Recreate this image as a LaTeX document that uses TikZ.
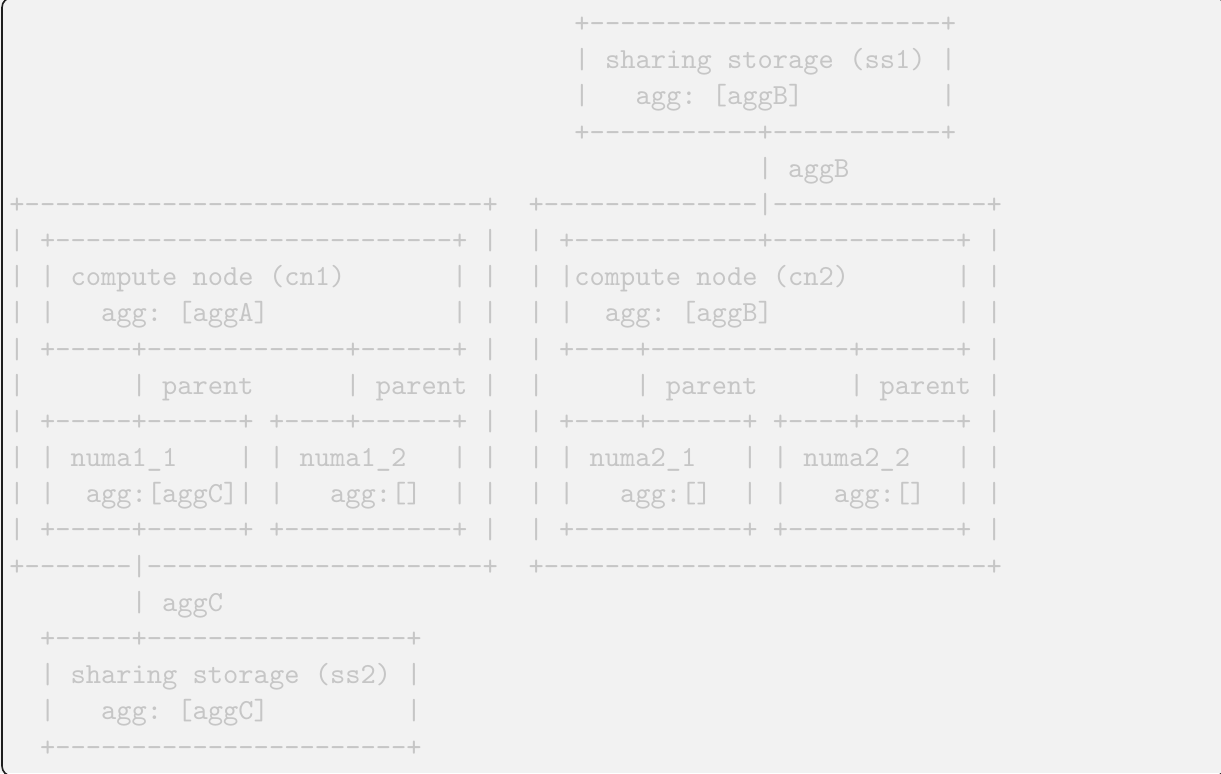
\documentclass[tikz,border=0pt]{standalone}
\usepackage{fontspec}
\setmonofont{lmmono10-regular}[Extension=.otf]
\usepackage{tikz}

\definecolor{pagegray}{RGB}{242,242,242}
\definecolor{asciigray}{RGB}{198,198,198}
\definecolor{framegray}{RGB}{30,30,30}

\tikzset{
  ascii/.style={font=\ttfamily\fontsize{14.54pt}{17pt}\selectfont\frenchspacing,
    text=asciigray, inner sep=0pt, anchor=base west},
}

\begin{document}
\begin{tikzpicture}[x=0.5pt,y=-0.5pt]
              % Definitions
              \pgfmathsetmacro{\W}{1221}
              \pgfmathsetmacro{\H}{773}
              \pgfmathsetmacro{\cw}{15.27}  % one character cell
              \pgfmathsetmacro{\lh}{36.17}  % one text line
              \pgfmathsetmacro{\xo}{9.07}
              \pgfmathsetmacro{\yo}{32.6}

              % page and frame (only its left side falls inside the page)
              \useasboundingbox (0,0) rectangle (\W,\H);
              \clip (0,0) rectangle (\W,\H);
              \fill[pagegray] (0,0) rectangle (\W,\H);
              \draw[framegray, line width=0.8pt, rounded corners=5pt]
                (2,-2.5) rectangle (1225,776);

              % the drawing, one row of characters per node
              \foreach \r/\c/\t in {
                0/37/{+-----------------------+},
                1/37/{|~sharing~storage~(ss1)~|},
                2/37/{|~~~agg:~[aggB]~~~~~~~~~|},
                3/37/{+-----------+-----------+},
                4/49/{|~aggB},
                5/0/{+------------------------------+~~+--------------|--------------+},
                6/0/{|~+--------------------------+~|~~|~+------------+------------+~|},
                7/0/{|~|~compute~node~(cn1)~~~~~~~|~|~~|~|compute~node~(cn2)~~~~~~~|~|},
                8/0/{|~|~~~agg:~[aggA]~~~~~~~~~~~~|~|~~|~|~~agg:~[aggB]~~~~~~~~~~~~|~|},
                9/0/{|~+-----+-------------+------+~|~~|~+----+-------------+------+~|},
                10/0/{|~~~~~~~|~parent~~~~~~|~parent~|~~|~~~~~~|~parent~~~~~~|~parent~|},
                11/0/{|~+-----+------+~+----+------+~|~~|~+----+------+~+----+------+~|},
                12/0/{|~|~numa1\_1~~~~|~|~numa1\_2~~~|~|~~|~|~numa2\_1~~~|~|~numa2\_2~~~|~|},
                13/0/{|~|~~agg:[aggC]|~|~~~agg:[]~~|~|~~|~|~~~agg:[]~~|~|~~~agg:[]~~|~|},
                14/0/{|~+-----+------+~+-----------+~|~~|~+-----------+~+-----------+~|},
                15/0/{+-------|----------------------+~~+-----------------------------+},
                16/8/{|~aggC},
                17/2/{+-----+-----------------+},
                18/2/{|~sharing~storage~(ss2)~|},
                19/2/{|~~~agg:~[aggC]~~~~~~~~~|},
                20/2/{+-----------------------+}}
                \node[ascii] (row\r) at ({\xo+\c*\cw},{\yo+\r*\lh}) {\t};
        \end{tikzpicture}
\end{document}
